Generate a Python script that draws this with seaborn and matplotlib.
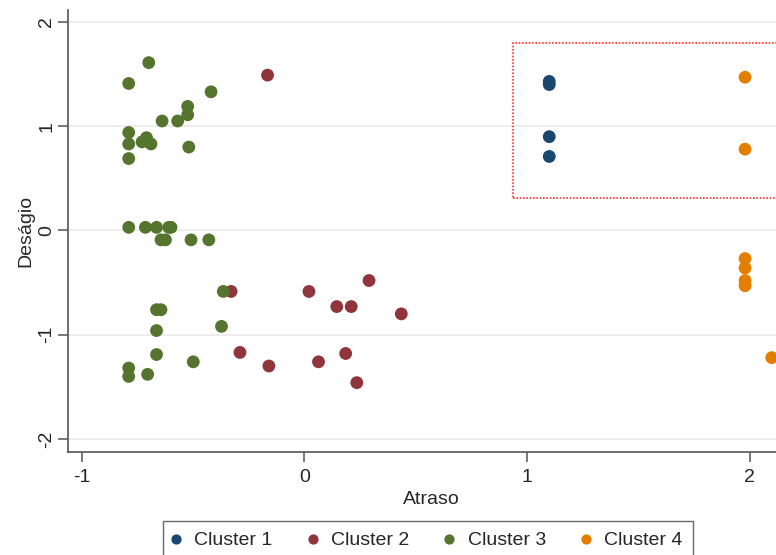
import matplotlib
matplotlib.use("Agg")
import matplotlib.pyplot as plt
import seaborn as sns
import pandas as pd
from matplotlib.patches import Rectangle

# ---- data ----
c1_x = [1.10, 1.10, 1.10, 1.10]
c1_y = [1.43, 1.40, 0.90, 0.71]

c2_x = [-0.166, -0.33, 0.02, 0.29, 0.145, 0.21, 0.435, -0.29, -0.16, 0.063, 0.185, 0.235]
c2_y = [1.49, -0.585, -0.585, -0.48, -0.73, -0.73, -0.80, -1.17, -1.30, -1.26, -1.18, -1.46]

c3_x = [-0.70, -0.79, -0.42, -0.525, -0.525, -0.64, -0.57, -0.79, -0.79,
        -0.73, -0.71, -0.69, -0.52, -0.79,
        -0.79, -0.715, -0.665, -0.61, -0.60,
        -0.645, -0.625, -0.51, -0.43,
        -0.365, -0.665, -0.645, -0.665, -0.373, -0.665, -0.50, -0.79, -0.79, -0.705]
c3_y = [1.61, 1.41, 1.33, 1.19, 1.11, 1.05, 1.05, 0.94, 0.83,
        0.85, 0.89, 0.83, 0.80, 0.69,
        0.03, 0.03, 0.03, 0.03, 0.03,
        -0.09, -0.09, -0.09, -0.09,
        -0.585, -0.76, -0.76, -0.96, -0.92, -1.19, -1.26, -1.32, -1.40, -1.38]

c4_x = [1.98, 1.98, 1.98, 1.98, 1.98, 1.98, 2.10]
c4_y = [1.47, 0.78, -0.27, -0.36, -0.48, -0.53, -1.22]

clusters = ["Cluster 1", "Cluster 2", "Cluster 3", "Cluster 4"]
colors = ["#1a476f", "#90353b", "#55752f", "#e37e00"]

x_ticks = [-1, 0, 1, 2]
y_ticks = [-2, -1, 0, 1, 2]

df = pd.concat([
    pd.DataFrame({"Atraso": c1_x, "Deságio": c1_y, "cl": clusters[0]}),
    pd.DataFrame({"Atraso": c2_x, "Deságio": c2_y, "cl": clusters[1]}),
    pd.DataFrame({"Atraso": c3_x, "Deságio": c3_y, "cl": clusters[2]}),
    pd.DataFrame({"Atraso": c4_x, "Deságio": c4_y, "cl": clusters[3]}),
], ignore_index=True)

sns.set_style("white")
plt.rcParams["font.family"] = ["Liberation Sans", "DejaVu Sans"]

fig = plt.figure(figsize=(7.76, 5.55), dpi=100)
ax = fig.add_axes([0.0876, 0.1856, 0.9356, 0.7964])

sns.scatterplot(data=df, x="Atraso", y="Deságio", hue="cl", hue_order=clusters,
                palette=colors, s=85, linewidth=0, alpha=1, ax=ax, zorder=3)

ax.set_xlim(-1.063, 2.2)
ax.set_ylim(-2.125, 2.115)
ax.set_xticks(x_ticks)
ax.set_yticks(y_ticks)
ax.set_xticklabels([str(v) for v in x_ticks], fontsize=14)
ax.set_yticklabels([str(v) for v in y_ticks], fontsize=14, rotation=90, va="center")
ax.set_xlabel("Atraso", fontsize=14, labelpad=4)
ax.set_ylabel("Deságio", fontsize=14, labelpad=3)

ax.grid(axis="y", color="#eaeaea", linewidth=1.2, zorder=0)
ax.grid(axis="x", visible=False)
for s in ["top", "right"]:
    ax.spines[s].set_visible(False)
for s in ["left", "bottom"]:
    ax.spines[s].set_color("#555555")
    ax.spines[s].set_linewidth(1.2)
ax.tick_params(axis="both", which="both", direction="out", length=7, width=1.1,
               color="#555555", left=True, bottom=True)
ax.tick_params(axis="x", pad=5)
ax.tick_params(axis="y", pad=2)

rect = Rectangle((0.937, 0.312), 1.5, 1.488, fill=False, edgecolor="#ff3030",
                 linestyle=(0, (1, 1)), linewidth=1.2, zorder=2)
ax.add_patch(rect)

sns.move_legend(ax, "upper center", bbox_to_anchor=(0.552, 1 - 521 / 555),
                bbox_transform=fig.transFigure, ncol=4, title=None,
                frameon=True, fontsize=14, markerscale=0.8,
                handlelength=0.2, handletextpad=0.85, columnspacing=1.95,
                borderpad=0.55, borderaxespad=0,
                fancybox=False, edgecolor="#444444")
leg = ax.get_legend()
leg.get_frame().set_linewidth(1.0)

fig.savefig("out.png", dpi=100)
